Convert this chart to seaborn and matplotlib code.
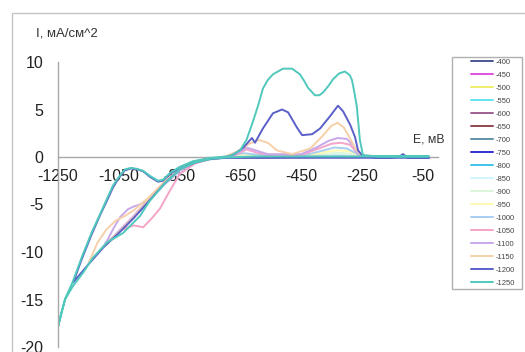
import matplotlib
matplotlib.use("Agg")
import matplotlib.pyplot as plt
import matplotlib.patches as mpatches
from matplotlib.lines import Line2D
import seaborn as sns
import pandas as pd

# ---------------- data ----------------
series_names = ["-400", "-450", "-500", "-550", "-600", "-650", "-700", "-750", "-800",
                "-850", "-900", "-950", "-1000", "-1050", "-1100", "-1150", "-1200", "-1250"]

series_colors = ["#4a5890", "#e050e0", "#eeee70", "#60e4f0", "#a06090", "#904850",
                 "#6090a8", "#3030d0", "#40c4e8", "#d0f4ff", "#dcf6dc", "#fffab0",
                 "#a8cef0", "#f4a4c8", "#c8a8e8", "#f6d0a8", "#5a60c8", "#50c8bc"]

E_400 = [-50, -200, -400, -200, -50]
I_400 = [0, 0.02, 0, 0.03, 0]
E_450 = [-50, -250, -450, -250, -50]
I_450 = [0, 0.02, -0.01, 0.03, 0]
E_500 = [-50, -300, -500, -300, -50]
I_500 = [0, 0.02, -0.02, 0.05, 0]
E_550 = [-50, -300, -550, -300, -50]
I_550 = [0, 0.02, -0.02, 0.05, 0]
E_600 = [-50, -350, -600, -350, -50]
I_600 = [0, 0.02, -0.03, 0.06, 0]
E_650 = [-50, -350, -650, -350, -50]
I_650 = [0, 0.02, -0.03, 0.08, 0]
E_700 = [-50, -400, -700, -650, -400, -50]
I_700 = [0, 0.02, -0.05, 0.0, 0.08, 0]
E_750 = [-50, -400, -700, -750, -700, -600, -400, -50]
I_750 = [0, 0.02, -0.05, -0.2, -0.05, 0.05, 0.1, 0]
E_800 = [-50, -400, -700, -750, -800, -750, -700, -600, -400, -300, -50]
I_800 = [0, 0.02, -0.05, -0.2, -0.6, -0.25, -0.05, 0.05, 0.1, 0.1, 0]
E_850 = [-50, -400, -700, -750, -800, -850, -800, -750, -700, -600, -400, -330, -270, -50]
I_850 = [0, 0.02, -0.05, -0.2, -0.6, -1.3, -0.6, -0.2, 0, 0.1, 0.15, 0.25, 0.1, 0]
E_900 = [-50, -400, -700, -750, -800, -850, -900, -870, -850, -800, -750, -700, -640, -600,
         -450, -380, -330, -290, -260, -50]
I_900 = [0, 0.02, -0.05, -0.2, -0.6, -1.3, -2.7, -1.9, -1.3, -0.6, -0.2, 0, 0.2, 0.1,
         0.05, 0.3, 0.45, 0.35, 0.1, 0]
E_950 = [-50, -400, -700, -750, -800, -850, -900, -950, -920, -900, -850, -800, -750, -700,
         -640, -600, -450, -380, -330, -290, -260, -50]
I_950 = [0, 0.02, -0.05, -0.2, -0.6, -1.3, -2.7, -4.4, -3.4, -2.7, -1.4, -0.6, -0.2, 0,
         0.3, 0.15, 0.05, 0.5, 0.7, 0.6, 0.15, 0]
E_1000 = [-50, -400, -700, -750, -800, -850, -900, -950, -1000, -970, -950, -900, -850, -800,
          -750, -700, -640, -610, -550, -450, -400, -340, -300, -270, -250, -50]
I_1000 = [0, 0.02, -0.05, -0.2, -0.6, -1.3, -2.7, -4.4, -6.2, -5.4, -4.6, -2.9, -1.5, -0.6,
          -0.2, 0, 0.4, 0.3, 0.1, 0.1, 0.5, 1.0, 0.9, 0.4, 0.05, 0]
E_1050 = [-50, -400, -700, -750, -800, -850, -900, -950, -1000, -1050, -1020, -1000, -970, -940,
          -914, -890, -870, -850, -800, -750, -700, -660, -630, -600, -550, -450, -400, -350,
          -320, -290, -270, -250, -50]
I_1050 = [0, 0.02, -0.05, -0.2, -0.6, -1.3, -2.7, -4.4, -6.2, -7.8, -7.4, -7.2, -7.4, -6.4,
          -5.4, -4.0, -2.9, -1.8, -0.7, -0.2, 0, 0.3, 0.8, 0.5, 0.15, 0.2, 0.8, 1.4,
          1.5, 1.3, 0.6, 0.1, 0]
E_1100 = [-50, -400, -700, -750, -800, -850, -900, -950, -1000, -1050, -1100, -1085, -1069, -1045,
          -1020, -1000, -980, -950, -900, -850, -800, -750, -700, -660, -630, -600, -560, -450,
          -400, -360, -330, -300, -280, -265, -250, -50]
I_1100 = [0, 0.02, -0.05, -0.2, -0.6, -1.3, -2.7, -4.4, -6.2, -7.8, -9.4, -8.6, -7.6, -6.3,
          -5.5, -5.2, -5.0, -4.4, -2.8, -1.4, -0.6, -0.2, 0, 0.4, 1.0, 0.7, 0.3, 0.3,
          1.0, 1.7, 2.0, 1.9, 1.3, 0.4, 0.05, 0]
E_1150 = [-50, -400, -700, -750, -800, -850, -900, -950, -1000, -1050, -1100, -1150, -1120, -1090,
          -1060, -1030, -1000, -950, -900, -850, -800, -750, -700, -660, -620, -590, -560, -530,
          -480, -420, -380, -350, -330, -310, -290, -270, -250, -50]
I_1150 = [0, 0.02, -0.05, -0.2, -0.6, -1.3, -2.7, -4.4, -6.3, -7.9, -9.4, -11.2, -9.0, -7.6,
          -6.7, -6.2, -5.6, -4.2, -2.6, -1.3, -0.5, -0.15, 0.05, 0.6, 1.4, 1.8, 1.5, 0.7,
          0.3, 0.9, 2.2, 3.3, 3.6, 3.1, 2.0, 0.8, 0.1, 0]
E_1200 = [-30, -400, -700, -750, -800, -850, -900, -950, -1000, -1050, -1100, -1150, -1200,
          -1170, -1140, -1110, -1089, -1069, -1050, -1030, -1010, -990, -970, -947, -921, -905,
          -882, -850, -806, -750, -700, -670, -640, -612, -602, -576, -543, -513, -493, -464,
          -447, -414, -388, -355, -329, -312, -289, -273, -263, -250, -200, -130, -115, -100, -30]
I_1200 = [-0.08, -0.08, -0.1, -0.2, -0.6, -1.3, -2.8, -4.6, -6.4, -8.0, -9.5, -11.3, -13.2,
          -10.6, -8.2, -6.0, -4.6, -3.2, -2.2, -1.4, -1.2, -1.3, -1.5, -2.1, -2.6, -2.5,
          -1.8, -1.1, -0.5, -0.15, -0.05, 0.3, 1.0, 2.0, 1.5, 3.0, 4.6, 5.0, 4.7, 3.1,
          2.3, 2.4, 3.0, 4.3, 5.4, 4.8, 3.4, 2.1, 0.7, 0.2, -0.08, 0.0, 0.3, -0.05, -0.08]
E_1250 = [-30, -400, -600, -700, -750, -800, -850, -900, -950, -980, -1036, -1089, -1135, -1168,
          -1201, -1227, -1250, -1240, -1225, -1205, -1200, -1170, -1140, -1110, -1089, -1069,
          -1050, -1030, -1010, -990, -970, -947, -921, -905, -882, -850, -806, -750, -700,
          -684, -651, -630, -609, -590, -576, -560, -543, -510, -480, -454, -440, -428, -405,
          -390, -378, -360, -345, -325, -306, -290, -283, -275, -267, -257, -247, -200, -30]
I_1250 = [0.06, 0.06, 0.06, -0.05, -0.2, -0.6, -1.3, -2.8, -4.7, -6.2, -8.0, -9.0, -10.6, -12.2,
          -13.6, -15.0, -17.9, -16.5, -14.8, -13.4, -13.0, -10.4, -8.0, -5.9, -4.4, -3.0,
          -2.1, -1.3, -1.15, -1.25, -1.45, -2.0, -2.5, -2.4, -1.7, -1.05, -0.45, -0.1, 0.05,
          0.1, 0.7, 1.8, 3.7, 5.6, 7.2, 8.1, 8.7, 9.3, 9.3, 8.7, 8.0, 7.3, 6.5,
          6.5, 6.8, 7.5, 8.2, 8.8, 9.0, 8.6, 8.1, 6.8, 5.3, 1.8, 0.2, 0.06, 0.06]

x_ticks = [-1250, -1150, -1050, -950, -850, -750, -650, -550, -450, -350, -250, -150, -50]
x_tick_labels = ["-1250", "", "-1050", "", "-850", "", "-650", "", "-450", "", "-250", "", "-50"]
y_ticks = [-20, -15, -10, -5, 0, 5, 10]

# ---------------- build long table ----------------
E_all = [E_400, E_450, E_500, E_550, E_600, E_650, E_700, E_750, E_800,
         E_850, E_900, E_950, E_1000, E_1050, E_1100, E_1150, E_1200, E_1250]
I_all = [I_400, I_450, I_500, I_550, I_600, I_650, I_700, I_750, I_800,
         I_850, I_900, I_950, I_1000, I_1050, I_1100, I_1150, I_1200, I_1250]
rows = []
for name, es, cs in zip(series_names, E_all, I_all):
    for k, (e, c) in enumerate(zip(es, cs)):
        rows.append({"series": name, "step": k, "E": e, "I": c})
df = pd.DataFrame(rows)

# ---------------- figure ----------------
sns.set_theme(style="white")
plt.rcParams["font.family"] = ["Liberation Sans", "DejaVu Sans"]
plt.rcParams["axes.unicode_minus"] = False

W, H = 525, 352
fig = plt.figure(figsize=(W / 100, H / 100), dpi=100)
ax = fig.add_axes([58 / W, 5 / H, (438 - 58) / W, (347 - 62) / H])

palette = dict(zip(series_names, series_colors))
sns.lineplot(data=df, x="E", y="I", hue="series", hue_order=series_names,
             palette=palette, sort=False, estimator=None, units="series",
             linewidth=1.4, legend=False, ax=ax)

ax.set_xlim(-1250, 0)
ax.set_ylim(-20, 10)
ax.set_xlabel("")
ax.set_ylabel("")

for s in ["top", "right"]:
    ax.spines[s].set_visible(False)
ax.spines["bottom"].set_position(("data", 0))
ax.spines["bottom"].set_color("#a8a8a8")
ax.spines["left"].set_color("#a8a8a8")
ax.spines["bottom"].set_zorder(0.5)
ax.spines["bottom"].set_linewidth(1.0)
ax.spines["left"].set_linewidth(1.0)

ax.set_xticks(x_ticks)
ax.set_xticklabels(x_tick_labels)
ax.set_yticks(y_ticks)
ax.tick_params(axis="x", direction="in", length=3, width=1, color="#a8a8a8",
               pad=8.5, labelsize=11.5, labelcolor="#222222")
ax.tick_params(axis="y", direction="in", length=3, width=1, color="#a8a8a8",
               pad=10.5, labelsize=11.5, labelcolor="#222222")
ax.set_facecolor("none")

fig.text(36 / W, 1 - 33 / H, "I, мА/см^2", fontsize=9.5, color="#333333",
         ha="left", va="center")
fig.text(413 / W, 1 - 140 / H, "E, мВ", fontsize=8.8, color="#333333",
         ha="left", va="center")

# outer chart border
fig.add_artist(mpatches.Rectangle((12 / W, -0.1), 1.2, (1 - 13 / H) + 0.1,
                                  transform=fig.transFigure, fill=False,
                                  edgecolor="#c4c4c4", linewidth=1.0))
# legend frame
fig.add_artist(mpatches.Rectangle((452 / W, 1 - 289 / H), (522 - 452) / W, (289 - 57) / H,
                                  transform=fig.transFigure, fill=False,
                                  edgecolor="#b0b0b0", linewidth=1.0))
handles = [Line2D([0], [0], color=c, lw=1.4) for c in series_colors]
fig.legend(handles, series_names, loc="upper left",
           bbox_to_anchor=(469 / W, 1 - 57 / H), frameon=False,
           fontsize=5.5, handlelength=2.9, handletextpad=0.4,
           labelspacing=0.74, borderpad=0.2, borderaxespad=0,
           labelcolor="#444444")

fig.savefig("out.png", dpi=100)
